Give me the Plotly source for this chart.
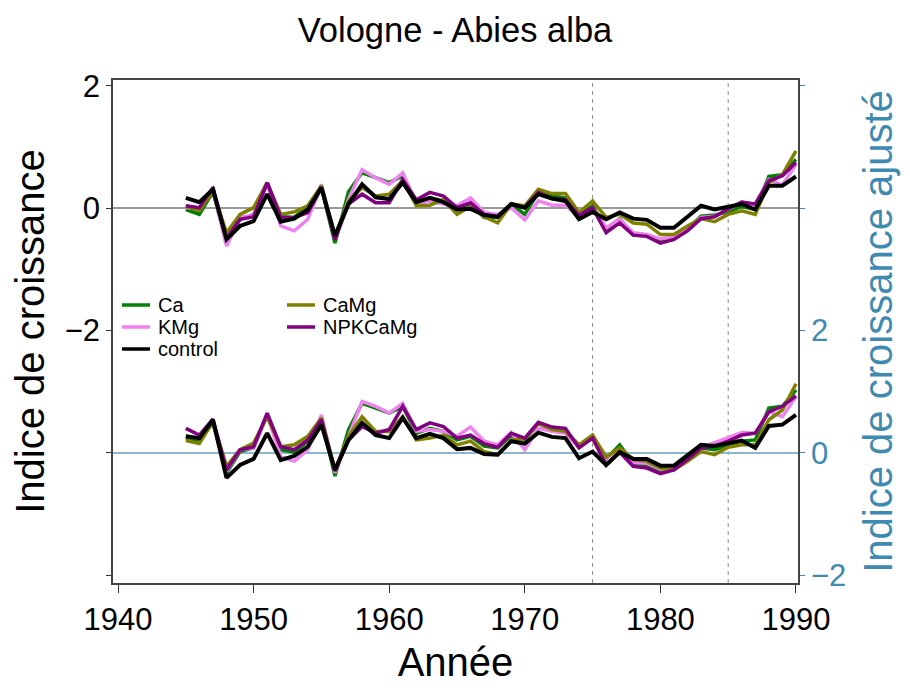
import plotly.graph_objs as go

years = list(range(1945, 1991))

# indices bruts (axe de gauche)
ca_top = [-0.02, -0.10, 0.27, -0.55, -0.18, -0.10, 0.42, -0.14, -0.15, 0.04, 0.34, -0.57, 0.27, 0.58, 0.50, 0.42,
          0.53, 0.09, 0.17, 0.12, -0.02, 0.07, -0.15, -0.15, 0.07, -0.10, 0.26, 0.20, 0.17, -0.10, 0.04,
          -0.34, -0.17, -0.44, -0.45, -0.55, -0.51, -0.34, -0.13, -0.11, -0.06, 0.03, -0.02, 0.52, 0.55, 0.80]
kmg_top = [0.01, 0.00, 0.31, -0.62, -0.15, -0.11, 0.39, -0.29, -0.37, -0.18, 0.39, -0.51, 0.15, 0.63, 0.50, 0.39,
           0.58, 0.07, 0.12, 0.07, 0.04, 0.17, -0.07, -0.10, 0.01, -0.19, 0.12, 0.05, 0.05, -0.15, 0.01,
           -0.32, -0.18, -0.40, -0.43, -0.50, -0.48, -0.33, -0.15, -0.13, -0.02, 0.10, 0.05, 0.47, 0.38, 0.72]
camg_top = [0.03, -0.04, 0.28, -0.40, -0.10, 0.01, 0.42, -0.10, -0.06, 0.04, 0.37, -0.45, 0.12, 0.34, 0.20, 0.23,
            0.45, 0.04, 0.05, 0.14, -0.10, 0.03, -0.14, -0.24, 0.07, 0.04, 0.31, 0.24, 0.24, -0.07, 0.12,
            -0.15, -0.10, -0.24, -0.26, -0.43, -0.43, -0.29, -0.17, -0.22, -0.10, -0.04, -0.10, 0.42, 0.55, 0.94]
npk_top = [0.04, 0.01, 0.34, -0.49, -0.18, -0.14, 0.42, -0.15, -0.15, -0.07, 0.33, -0.51, 0.07, 0.23, 0.09, 0.09,
           0.47, 0.14, 0.26, 0.20, 0.01, 0.09, -0.10, -0.14, 0.07, 0.01, 0.26, 0.16, 0.14, -0.12, 0.01,
           -0.40, -0.24, -0.44, -0.46, -0.57, -0.51, -0.37, -0.17, -0.14, -0.01, 0.10, 0.07, 0.45, 0.53, 0.75]
control_top = [0.17, 0.10, 0.31, -0.51, -0.29, -0.21, 0.23, -0.22, -0.17, -0.02, 0.34, -0.45, 0.07, 0.39, 0.18, 0.15,
               0.42, 0.10, 0.17, 0.10, -0.02, -0.01, -0.11, -0.14, 0.07, 0.01, 0.23, 0.16, 0.12, -0.18, -0.06,
               -0.18, -0.07, -0.17, -0.19, -0.32, -0.32, -0.13, 0.04, -0.02, 0.03, 0.07, -0.02, 0.37, 0.37, 0.52]

# indices ajustés (axe de droite)
ca_adj = [0.24, 0.19, 0.49, -0.33, 0.02, 0.08, 0.62, 0.05, 0.01, 0.19, 0.54, -0.38, 0.38, 0.81, 0.73, 0.65,
          0.76, 0.32, 0.40, 0.35, 0.21, 0.27, 0.11, 0.08, 0.29, 0.21, 0.48, 0.38, 0.37, 0.10, 0.24,
          -0.10, 0.13, -0.17, -0.20, -0.30, -0.27, -0.10, 0.08, 0.05, 0.13, 0.19, 0.21, 0.73, 0.76, 1.03]
kmg_adj = [0.27, 0.24, 0.51, -0.30, 0.05, 0.08, 0.62, -0.06, -0.14, 0.05, 0.62, -0.33, 0.27, 0.84, 0.76, 0.65,
           0.81, 0.35, 0.38, 0.35, 0.27, 0.42, 0.19, 0.13, 0.33, 0.05, 0.40, 0.35, 0.32, 0.08, 0.27,
           -0.09, 0.05, -0.16, -0.17, -0.27, -0.25, -0.07, 0.08, 0.16, 0.24, 0.33, 0.32, 0.67, 0.59, 0.92]
camg_adj = [0.20, 0.15, 0.51, -0.22, 0.05, 0.16, 0.59, 0.10, 0.13, 0.27, 0.57, -0.28, 0.27, 0.59, 0.35, 0.35,
            0.59, 0.21, 0.24, 0.29, 0.13, 0.19, 0.02, -0.03, 0.21, 0.22, 0.48, 0.38, 0.35, 0.13, 0.29,
            -0.07, 0.08, -0.11, -0.14, -0.25, -0.28, -0.14, 0.02, -0.03, 0.09, 0.13, 0.13, 0.54, 0.70, 1.13]
npk_adj = [0.40, 0.29, 0.55, -0.28, 0.05, 0.10, 0.65, 0.10, 0.05, 0.21, 0.54, -0.30, 0.21, 0.43, 0.32, 0.38,
           0.76, 0.38, 0.49, 0.43, 0.24, 0.29, 0.15, 0.09, 0.32, 0.24, 0.50, 0.42, 0.40, 0.08, 0.24,
           -0.20, 0.01, -0.22, -0.25, -0.34, -0.28, -0.11, 0.08, 0.11, 0.19, 0.29, 0.32, 0.67, 0.76, 0.93]
control_adj = [0.27, 0.24, 0.54, -0.41, -0.20, -0.10, 0.32, -0.12, -0.05, 0.10, 0.46, -0.28, 0.21, 0.49, 0.29, 0.24,
               0.57, 0.24, 0.31, 0.24, 0.06, 0.08, -0.02, -0.03, 0.19, 0.15, 0.33, 0.26, 0.24, -0.09, 0.02,
               -0.20, 0.01, -0.10, -0.10, -0.21, -0.21, -0.03, 0.13, 0.11, 0.16, 0.20, 0.08, 0.44, 0.46, 0.62]

x_ticks = [1940, 1950, 1960, 1970, 1980, 1990]
periods = [1975, 1985]

FONT = "Arial, Liberation Sans, sans-serif"
BLUE = "#3f8ab0"
MINUS = "\u2212"

series = [
    ("Ca", "#008000", ca_top, ca_adj, 3.5),
    ("KMg", "#ee82ee", kmg_top, kmg_adj, 3.5),
    ("CaMg", "#808000", camg_top, camg_adj, 3.5),
    ("NPKCaMg", "#800080", npk_top, npk_adj, 3.5),
    ("control", "#000000", control_top, control_adj, 4),
]

fig = go.Figure()
for name, col, top, adj, w in series:
    fig.add_trace(go.Scatter(x=years, y=top, mode='lines', name=name, showlegend=False,
                             line=dict(color=col, width=w), yaxis='y'))
    fig.add_trace(go.Scatter(x=years, y=adj, mode='lines', name=name, showlegend=False,
                             line=dict(color=col, width=w), yaxis='y2'))

for yr in periods:
    fig.add_shape(type='line', x0=yr, x1=yr, y0=0, y1=1, xref='x', yref='paper', layer='below',
                  line=dict(color='#888888', width=1, dash='4px,4px'))

# la page html decale tout de 8px (marge du body)
OFF = 8
L, T, W, H = 113 - OFF, 80 - OFF, 685, 503

# legende faite a la main (2 colonnes), positions en px de la page
legend_pos = {"Ca": (122, 305), "KMg": (122, 327), "control": (122, 349),
              "CaMg": (287, 305), "NPKCaMg": (287, 327)}
for name, col, top, adj, w in series:
    px, py = legend_pos[name]
    px, py = px - OFF, py - OFF
    yp = (T + H - py) / H
    fig.add_shape(type='line', xref='paper', yref='paper',
                  x0=(px - L) / W, x1=(px + 28 - L) / W, y0=yp, y1=yp,
                  line=dict(color=col, width=3.5))
    fig.add_annotation(text=name, xref='paper', yref='paper', x=(px + 34 - L) / W, y=yp,
                       xanchor='left', yanchor='middle', showarrow=False,
                       font=dict(size=20, color='black', family=FONT))

fig.update_layout(
    width=910, height=690,
    margin=dict(l=L, r=910 - L - W, t=T, b=690 - T - H),
    plot_bgcolor='white', paper_bgcolor='white',
    font=dict(family=FONT, color='black'),
    title=dict(text='Vologne - Abies alba', x=(455 - OFF) / 910, xanchor='center', y=1 - (30 - OFF) / 690,
               yanchor='middle', yref='container', font=dict(size=34.5, color='black')),
    xaxis=dict(range=[1939.63, 1990.15], tickvals=x_ticks, ticks='outside', ticklen=8, tickcolor='#333',
               showline=True, linecolor='#444', linewidth=1.5, mirror=True, showgrid=False, zeroline=False,
               tickfont=dict(size=31), title=dict(text='Année', font=dict(size=40), standoff=12)),
    yaxis=dict(range=[-6.13, 2.098], tickvals=[-6, -4, -2, 0, 2], ticktext=['', '', MINUS + '2', '0', '2'],
               ticks='outside', ticklen=5, tickcolor='#333', showline=True, linecolor='#444', linewidth=1.5,
               showgrid=False, zeroline=True, zerolinecolor='#999999', zerolinewidth=1.5,
               tickfont=dict(size=31), title=dict(text='Indice de croissance', font=dict(size=40), standoff=10)),
    yaxis2=dict(range=[-2.13, 6.098], tickvals=[-2, 0, 2, 4, 6], ticktext=[MINUS + '2', '0', '2', '', ''],
                overlaying='y', side='right', ticks='outside', ticklen=5, tickcolor=BLUE,
                showline=True, linecolor='#444', linewidth=1.5, showgrid=False,
                zeroline=True, zerolinecolor='#8db5cc', zerolinewidth=1.5,
                tickfont=dict(size=31, color=BLUE),
                title=dict(text='Indice de croissance ajusté', font=dict(size=40, color=BLUE), standoff=19)),
)

fig.write_html("out.html")
